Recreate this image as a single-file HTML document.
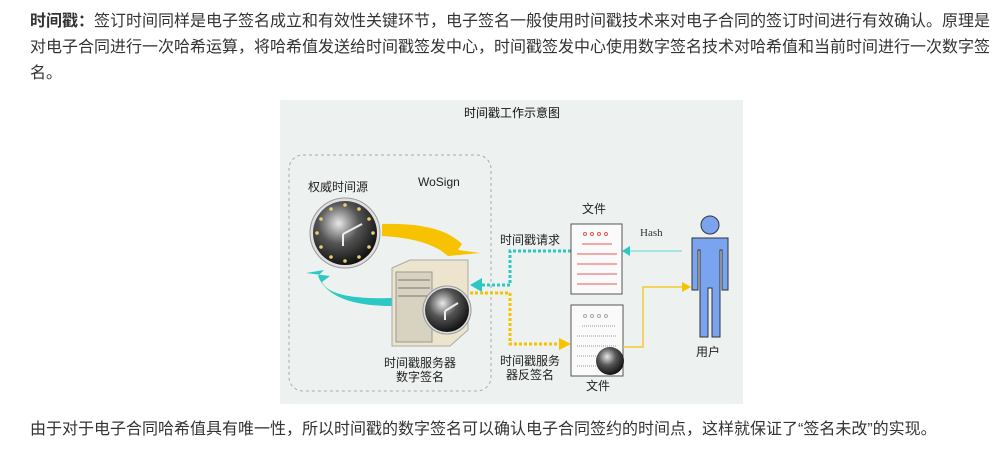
<!DOCTYPE html>
<html><head><meta charset="utf-8"><style>
body{margin:0;width:1000px;height:457px;background:#fff;position:relative;overflow:hidden;font-family:"Liberation Sans","Noto Sans CJK SC",sans-serif;color:#333;}
.p{position:absolute;left:30px;font-size:16px;line-height:26px;white-space:nowrap;}
</style></head><body>
<div class="p" style="top:9px"><b>时间戳：</b>签订时间同样是电子签名成立和有效性关键环节，电子签名一般使用时间戳技术来对电子合同的签订时间进行有效确认。原理是<br>对电子合同进行一次哈希运算，将哈希值发送给时间戳签发中心，时间戳签发中心使用数字签名技术对哈希值和当前时间进行一次数字签<br>名。</div>
<svg style="position:absolute;left:0;top:0" width="1000" height="457" font-family="Liberation Sans,Noto Sans CJK SC,sans-serif">
<defs>
<radialGradient id="cg" cx="0.4" cy="0.35" r="0.7"><stop offset="0" stop-color="#e8e8e8"/><stop offset="0.45" stop-color="#555"/><stop offset="1" stop-color="#0a0a0a"/></radialGradient>
</defs>
<rect x="280" y="100" width="463" height="304" fill="#edf1ef"/>
<text x="512" y="117" font-size="12" text-anchor="middle" fill="#111">时间戳工作示意图</text>
<rect x="289" y="155" width="202" height="236" rx="14" fill="none" stroke="#aaa" stroke-dasharray="3,3"/>
<text x="308" y="191" font-size="12" fill="#222">权威时间源</text>
<text x="418" y="186" font-size="12" fill="#222">WoSign</text>
<path d="M382 224 Q440 222 462 244 L458 250 L480 253 L448 256 L440 250 Q420 238 382 236 Z" fill="#f7c200"/>
<path d="M392 298 Q330 300 322 282 L330 276 L306 273 L324 270 L318 276 Q330 306 392 306 Z" fill="#2cc8c4"/>
<circle cx="345" cy="233" r="35" fill="#e0e0e0" stroke="#999"/>
<circle cx="345" cy="233" r="32" fill="url(#cg)"/>
<g fill="#e8d070"><circle cx="345" cy="205" r="1.8"/><circle cx="345" cy="261" r="1.8"/><circle cx="317" cy="233" r="1.8"/><circle cx="373" cy="233" r="1.8"/><circle cx="359" cy="209" r="1.8"/><circle cx="331" cy="209" r="1.8"/><circle cx="369" cy="219" r="1.8"/><circle cx="321" cy="219" r="1.8"/><circle cx="369" cy="247" r="1.8"/><circle cx="321" cy="247" r="1.8"/><circle cx="359" cy="257" r="1.8"/><circle cx="331" cy="257" r="1.8"/></g>
<path d="M343 234 L362 224 M343 234 L343 246" stroke="#eee" stroke-width="2"/>
<path d="M392 268 L410 260 L468 260 L468 330 L450 346 L392 346 Z" fill="#ece4cc" stroke="#aaa"/>
<rect x="396" y="272" width="36" height="70" fill="#d8d2c0" stroke="#999"/>
<path d="M398 280h32M398 288h32M398 296h32" stroke="#777"/>
<circle cx="447" cy="310" r="24" fill="#ddd" stroke="#999"/>
<circle cx="447" cy="310" r="22" fill="url(#cg)"/>
<path d="M445 311 L458 303 M445 311 L445 320" stroke="#eee" stroke-width="2"/>
<text x="420" y="367" font-size="12" text-anchor="middle" fill="#222">时间戳服务器</text>
<text x="420" y="381" font-size="12" text-anchor="middle" fill="#222">数字签名</text>
<path d="M571 251 L510 251 L510 285 L480 285" fill="none" stroke="#2cc8c4" stroke-width="3" stroke-dasharray="3,2"/>
<path d="M470 285 L482 278 L482 292 Z" fill="#2cc8c4"/>
<path d="M470 293 L510 293 L510 344 L560 344" fill="none" stroke="#f7c200" stroke-width="3" stroke-dasharray="3,2"/>
<path d="M571 344 L559 338 L559 350 Z" fill="#f7c200"/>
<text x="500" y="244" font-size="12" fill="#222">时间戳请求</text>
<text x="500" y="365" font-size="12" fill="#222">时间戳服务</text>
<text x="506" y="379" font-size="12" fill="#222">器反签名</text>
<text x="594" y="213" font-size="12" text-anchor="middle" fill="#222">文件</text>
<rect x="571" y="224" width="51" height="70" fill="#fafafa" stroke="#555"/>
<g fill="none" stroke="#e55"><circle cx="585" cy="234" r="1.5"/><circle cx="592" cy="234" r="1.5"/><circle cx="599" cy="234" r="1.5"/><circle cx="606" cy="234" r="1.5"/></g>
<path d="M582 244h30M577 254h40M577 264h40M577 274h40M577 284h40" stroke="#e55"/>
<rect x="571" y="305" width="52" height="71" fill="#fafafa" stroke="#555"/>
<g fill="none" stroke="#aaa"><circle cx="585" cy="316" r="1.5"/><circle cx="592" cy="316" r="1.5"/><circle cx="599" cy="316" r="1.5"/><circle cx="606" cy="316" r="1.5"/></g>
<path d="M582 326h34M577 336h40M577 346h40M577 356h40M577 366h30" stroke="#999" stroke-dasharray="1,1"/>
<circle cx="610" cy="361" r="14" fill="url(#cg)"/>
<text x="598" y="390" font-size="12" text-anchor="middle" fill="#222">文件</text>
<text x="640" y="236" font-size="11" font-family="Liberation Serif,serif" fill="#333">Hash</text>
<path d="M682 251 L628 251" stroke="#8ee0e0" stroke-width="1.5"/>
<path d="M622 251 L630 246 L630 256 Z" fill="#2cc8c4"/>
<path d="M623 347 L643 347 L643 287 L684 287" fill="none" stroke="#f7c200" stroke-width="1.2"/>
<path d="M691 287 L682 282 L682 292 Z" fill="#f7c200"/>
<circle cx="710" cy="225" r="9" fill="#7aa4f0" stroke="#333"/>
<path d="M692 238 L728 238 L728 290 L722 290 L722 250 L720 250 L720 337 L712 337 L712 288 L708 288 L708 337 L700 337 L700 250 L698 250 L698 290 L692 290 Z" fill="#7aa4f0" stroke="#333"/>
<text x="708" y="356" font-size="12" text-anchor="middle" fill="#222">用户</text>
</svg>
<div class="p" style="top:417px">由于对于电子合同哈希值具有唯一性，所以时间戳的数字签名可以确认电子合同签约的时间点，这样就保证了“签名未改”的实现。</div>
</body></html>
